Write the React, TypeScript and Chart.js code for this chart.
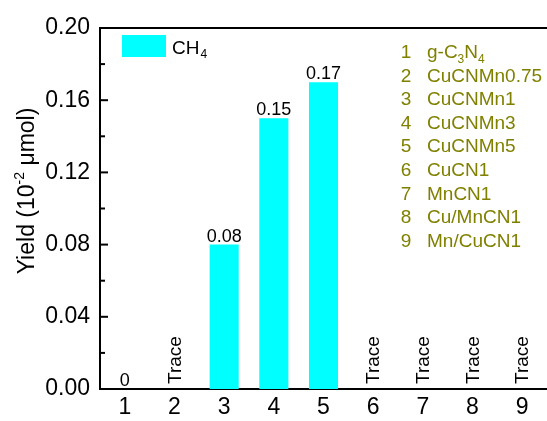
import React, { useEffect, useRef } from "react";
import { Chart, registerables } from "chart.js";

Chart.register(...registerables);

const categories = ["1", "2", "3", "4", "5", "6", "7", "8", "9"];
const ch4Yield = [0, 0, 0.08, 0.15, 0.17, 0, 0, 0, 0];
const valueLabels = ["0", "Trace", "0.08", "0.15", "0.17", "Trace", "Trace", "Trace", "Trace"];
const sampleNames: string[][] = [
  ["g-C", "_3", "N", "_4"],
  ["CuCNMn0.75"],
  ["CuCNMn1"],
  ["CuCNMn3"],
  ["CuCNMn5"],
  ["CuCN1"],
  ["MnCN1"],
  ["Cu/MnCN1"],
  ["Mn/CuCN1"],
];
const yTickValues = [0, 0.02, 0.04, 0.06, 0.08, 0.1, 0.12, 0.14, 0.16, 0.18, 0.2];

const FONT = "'Liberation Sans', Arial, Helvetica, sans-serif";

const overlay = {
  id: "overlay",
  afterDraw(chart: any) {
    const ctx = chart.ctx as CanvasRenderingContext2D;
    const area = chart.chartArea;
    const yScale = chart.scales.y;
    ctx.save();

    // top frame line
    ctx.strokeStyle = "#000";
    ctx.lineWidth = 2;
    ctx.beginPath();
    ctx.moveTo(area.left - 1, area.top);
    ctx.lineTo(area.right, area.top);
    ctx.stroke();

    // inward y ticks
    yTickValues.forEach((v, i) => {
      const py = yScale.getPixelForValue(v);
      const len = i % 2 === 0 ? 8 : 5;
      ctx.beginPath();
      ctx.moveTo(area.left, py);
      ctx.lineTo(area.left + len, py);
      ctx.stroke();
    });

    // value labels
    const meta = chart.getDatasetMeta(0);
    ctx.fillStyle = "#000";
    meta.data.forEach((bar: any, i: number) => {
      const label = valueLabels[i];
      if (label === "Trace") {
        ctx.save();
        ctx.translate(bar.x + 1, yScale.getPixelForValue(0) - 5);
        ctx.rotate(-Math.PI / 2);
        ctx.font = `19px ${FONT}`;
        ctx.textAlign = "left";
        ctx.textBaseline = "middle";
        ctx.fillText(label, 0, 0);
        ctx.restore();
      } else {
        ctx.font = `18px ${FONT}`;
        ctx.textAlign = "center";
        ctx.textBaseline = "alphabetic";
        ctx.fillText(label, bar.x, bar.y - 3);
      }
    });

    // CH4 legend
    const ds = chart.data.datasets[0];
    ctx.fillStyle = ds.backgroundColor;
    ctx.fillRect(area.left + 22, area.top + 7, 44, 22);
    ctx.fillStyle = "#000";
    ctx.textAlign = "left";
    ctx.textBaseline = "alphabetic";
    ctx.font = `19px ${FONT}`;
    ctx.fillText("CH", area.left + 72, area.top + 26);
    const chw = ctx.measureText("CH").width;
    ctx.font = `12px ${FONT}`;
    ctx.fillText("4", area.left + 72 + chw + 1, area.top + 30);

    // sample list
    ctx.fillStyle = "#808000";
    sampleNames.forEach((parts, i) => {
      const cy = 51 + i * 23.6;
      const base = cy + 7;
      ctx.font = `19px ${FONT}`;
      ctx.textAlign = "center";
      ctx.fillText(String(i + 1), 406, base);
      ctx.textAlign = "left";
      let x = 427;
      parts.forEach((p) => {
        if (p.startsWith("_")) {
          ctx.font = `12px ${FONT}`;
          const t = p.slice(1);
          ctx.fillText(t, x, base + 5);
          x += ctx.measureText(t).width;
        } else {
          ctx.font = `19px ${FONT}`;
          ctx.fillText(p, x, base);
          x += ctx.measureText(p).width;
        }
      });
    });

    // y-axis title with superscript
    ctx.fillStyle = "#000";
    ctx.save();
    ctx.translate(33.5, 191);
    ctx.rotate(-Math.PI / 2);
    const partsT: [string, number, number][] = [
      ["Yield (10", 23, 0],
      ["-2", 14, -10],
      [" \u03bcmol)", 23, 0],
    ];
    let total = 0;
    partsT.forEach(([t, s]) => {
      ctx.font = `${s}px ${FONT}`;
      total += ctx.measureText(t).width;
    });
    let tx = -total / 2;
    ctx.textAlign = "left";
    ctx.textBaseline = "alphabetic";
    partsT.forEach(([t, s, dy]) => {
      ctx.font = `${s}px ${FONT}`;
      ctx.fillText(t, tx, dy);
      tx += ctx.measureText(t).width;
    });
    ctx.restore();

    ctx.restore();
  },
};

export default function App() {
  const canvasRef = useRef<HTMLCanvasElement | null>(null);

  useEffect(() => {
    if (!canvasRef.current) return;
    const chart = new Chart(canvasRef.current, {
      type: "bar",
      data: {
        labels: categories,
        datasets: [
          {
            label: "CH4",
            data: ch4Yield,
            backgroundColor: "#00FFFF",
            borderWidth: 0,
            barPercentage: 0.585,
            categoryPercentage: 1,
          },
        ],
      },
      options: {
        animation: false,
        responsive: false,
        maintainAspectRatio: false,
        devicePixelRatio: 1,
        layout: { padding: { top: 28, left: 0, right: 0, bottom: 0 } },
        plugins: {
          legend: { display: false },
          tooltip: { enabled: false },
          title: { display: false },
        },
        scales: {
          x: {
            type: "category",
            offset: true,
            grid: { display: false, drawTicks: false },
            border: { display: true, color: "#000", width: 2 },
            ticks: {
              color: "#000",
              font: { family: FONT, size: 23 },
              padding: 5,
              maxRotation: 0,
              autoSkip: false,
            },
            afterFit: (scale: any) => {
              scale.height = 32;
            },
          },
          y: {
            min: 0,
            max: 0.2,
            grid: { display: false, drawTicks: false },
            border: { display: true, color: "#000", width: 2 },
            ticks: {
              stepSize: 0.02,
              color: "#000",
              font: { family: FONT, size: 23 },
              padding: 10,
              callback: (v: any, i: number) => (i % 2 === 0 ? Number(v).toFixed(2) : ""),
            },
            afterFit: (scale: any) => {
              scale.width = 100;
            },
          },
        },
      },
      plugins: [overlay],
    });
    return () => chart.destroy();
  }, []);

  return (
    <div style={{ position: "fixed", left: 0, top: 0, width: 547, height: 421, background: "#fff" }}>
      <canvas ref={canvasRef} width={547} height={421} style={{ width: 547, height: 421, display: "block" }} />
    </div>
  );
}
